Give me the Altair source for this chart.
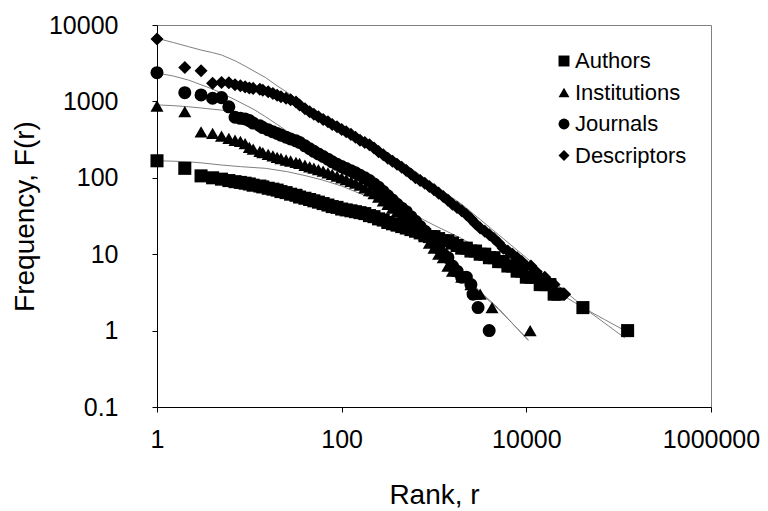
import altair as alt
import pandas as pd

series_names = ["Authors", "Institutions", "Journals", "Descriptors"]
shapes = ["square", "triangle-up", "circle", "diamond"]

authors_rank = [1, 2, 3, 4, 5, 6, 7, 8, 9,
                10, 11, 13, 14, 16, 18, 20, 22, 25, 28, 32, 35, 40, 45, 50, 56, 63, 71, 79, 89,
                100, 112, 126, 141, 158, 178, 200, 224, 251, 282, 316, 355, 398, 447, 501, 562,
                631, 708, 794, 891, 1000, 1122, 1259, 1413, 1585, 1778, 1995, 2239, 2512, 2818,
                3162, 3548, 3981, 4467, 5012, 5623, 6310, 7079, 7943, 8913, 10000, 11220, 12589,
                14125, 16000, 18000, 20000, 22000, 41000, 125000]
authors_freq = [167, 133, 106, 100, 96, 92, 89, 87, 85,
                83, 80, 78, 76, 73, 71, 69, 66, 64, 61, 59, 56, 54, 52, 50, 48, 46, 44, 42, 41,
                39, 38, 37, 36, 35, 34, 32, 31, 29, 28, 26, 25, 24, 23, 22, 21,
                20, 19, 18, 17, 17, 16, 15, 15, 14, 13, 12, 12, 11, 11,
                10, 10, 9, 9, 8, 8, 7, 7, 6, 6, 5, 5, 5,
                4, 4, 4, 3, 3, 2, 1]

inst_rank = [1, 2, 3, 4, 5, 6, 7, 8, 9,
             10, 11, 13, 14, 16, 18, 20, 22, 25, 28, 32, 35, 40, 45, 50, 56, 63, 71, 79, 89,
             100, 112, 126, 141, 158, 178, 200, 224, 251, 282, 316, 355, 398, 447, 501, 562,
             631, 708, 794, 891, 1000, 1122, 1259, 1413, 1585, 1778, 1995, 2239, 2512, 2818,
             3162, 4250, 11000]
inst_freq = [870, 735, 400, 382, 352, 329, 310, 300, 280,
             250, 238, 222, 214, 203, 194, 185, 179, 171, 166, 159, 154, 146, 139, 134, 128, 122, 116, 111, 105,
             100, 95, 90, 85, 80, 74, 68, 62, 56, 50, 45, 40, 36, 32, 29, 26,
             23, 20, 17, 14, 12, 10, 9, 7, 6, 6, 5, 5, 4, 3,
             3, 2, 1]

jour_rank = [1, 2, 3, 4, 5, 6, 7, 8, 9,
             10, 11, 13, 14, 16, 18, 20, 22, 25, 28, 32, 35, 40, 45, 50, 56, 63, 71, 79, 89,
             100, 112, 126, 141, 158, 178, 200, 224, 251, 282, 316, 355, 398, 447, 501, 562,
             631, 708, 794, 891, 1000, 1122, 1259, 1413, 1585, 1778, 1995, 2239, 2512, 2650,
             3000, 3960]
jour_freq = [2375, 1300, 1214, 1100, 1120, 850, 620, 600, 590,
             560, 520, 480, 455, 425, 400, 380, 362, 340, 322, 305, 290, 262, 240, 222, 205, 190, 175, 162, 150,
             140, 132, 124, 116, 108, 100, 92, 83, 75, 66, 58, 51, 45, 40, 36, 31,
             27, 23, 20, 17, 14, 12, 10, 9, 7, 6, 5, 5, 4, 3,
             2, 1]

desc_rank = [1, 2, 3, 4, 5, 6, 7, 8, 9,
             10, 11, 13, 14, 16, 18, 20, 22, 25, 28, 32, 35, 40, 45, 50, 56, 63, 71, 79, 89,
             100, 112, 126, 141, 158, 178, 200, 224, 251, 282, 316, 355, 398, 447, 501, 562,
             631, 708, 794, 891, 1000, 1122, 1259, 1413, 1585, 1778, 1995, 2239, 2512, 2818,
             3162, 3548, 3981, 4467, 5012, 5623, 6310, 7079, 7943, 8913, 10000, 11220, 12589,
             14125, 15849, 17783, 19953, 22387, 26000]
desc_freq = [6560, 2770, 2520, 1725, 1765, 1750, 1650, 1600, 1550,
             1500, 1480, 1440, 1400, 1340, 1270, 1200, 1150, 1100, 1050, 980, 900, 800, 730, 680, 630, 580, 540, 500, 465,
             430, 400, 370, 340, 310, 290, 270, 245, 220, 200, 180, 165, 150, 137, 125, 112,
             100, 92, 85, 77, 70, 63, 57, 51, 45, 41, 37, 33, 29, 25,
             22, 20, 18, 16, 14, 12, 11, 10, 9, 8, 7, 7, 6,
             5, 5, 4, 4, 3, 3]

# ---- fitted curves ----
fit_authors_rank = [1, 1.5, 2.2, 3, 5, 8, 15, 26, 40, 61, 100, 140, 250, 400, 700, 1000, 2000,
                    3000, 5000, 10000, 20000, 41000, 70000, 126000]
fit_authors_freq = [167, 165, 162, 157, 147, 140, 133, 120, 107, 94, 78, 66, 50, 38, 30, 24, 16,
                    12, 8.5, 5.5, 3.4, 2, 1.4, 0.95]

fit_inst_rank = [1, 1.5, 2.2, 3, 4, 5, 7, 9, 11.5, 15, 20, 26, 35, 48, 70, 100, 150, 200, 300,
                 400, 600, 1000, 1500, 2340, 3500, 5000, 7500, 10500]
fit_inst_freq = [900, 880, 850, 820, 790, 770, 700, 630, 570, 500, 440, 386, 310, 240, 185, 145, 105, 82, 52,
                 37, 22, 12, 7.6, 4.6, 2.9, 1.95, 1.15, 0.74]

fit_jour_rank = [1, 1.5, 2.2, 3, 4, 5, 7, 9, 11.5, 15, 20, 26, 35, 48, 70, 100, 150, 200, 300,
                 400, 600, 1000, 1500, 2340, 3500, 5000, 7500, 10500]
fit_jour_freq = [2350, 2150, 1900, 1650, 1450, 1280, 1050, 900, 770, 630, 500, 400, 310, 240, 190, 150, 110, 85, 55,
                 38, 22, 12, 7.5, 4.4, 2.8, 1.9, 1.15, 0.76]

fit_desc_rank = [1, 1.5, 2.2, 3, 4, 5, 7, 9, 11.5, 15, 20, 26, 34, 45, 60, 80, 120, 190, 300, 430,
                 700, 1000, 2000, 5000, 10000, 26000, 50000, 117000]
fit_desc_freq = [6700, 5900, 5200, 4700, 4350, 4050, 3400, 2900, 2450, 2050, 1600, 1300, 1040, 820, 680, 560,
                 420, 310, 220, 165, 110, 80, 45, 18, 9, 3.3, 1.7, 0.8]

x_ticks = [1, 100, 10000, 1000000]
y_ticks = [0.1, 1, 10, 100, 1000, 10000]

FONT = "Liberation Sans"


def build(pairs):
    rows = []
    for name, rs, fs in pairs:
        for r, f in zip(rs, fs):
            rows.append({"series": name, "rank": r, "freq": f})
    return pd.DataFrame(rows)


points_df = build([
    ("Authors", authors_rank, authors_freq),
    ("Institutions", inst_rank, inst_freq),
    ("Journals", jour_rank, jour_freq),
    ("Descriptors", desc_rank, desc_freq),
])
fit_df = build([
    ("Authors", fit_authors_rank, fit_authors_freq),
    ("Institutions", fit_inst_rank, fit_inst_freq),
    ("Journals", fit_jour_rank, fit_jour_freq),
    ("Descriptors", fit_desc_rank, fit_desc_freq),
])

x_enc = alt.X(
    "rank:Q",
    scale=alt.Scale(type="log", domain=[1, 1000000], nice=False),
    axis=alt.Axis(
        values=x_ticks, title="Rank, r", labelExpr="format(datum.value, 'd')",
        labelFlush=False, labelOverlap=False, labelPadding=15,
        titleBaseline="middle", titleY=88,
    ),
)
y_enc = alt.Y(
    "freq:Q",
    scale=alt.Scale(type="log", domain=[0.1, 10000], nice=False),
    axis=alt.Axis(
        values=y_ticks, title="Frequency, F(r)",
        labelExpr="datum.value < 1 ? '0.1' : format(datum.value, 'd')",
        labelFlush=False, labelOverlap=False, labelPadding=34,
        titleBaseline="middle", titleX=-132,
    ),
)

lines = alt.Chart(fit_df).mark_line(color="#808080", strokeWidth=1).encode(
    x=x_enc, y=y_enc, detail="series:N", order="rank:Q"
)

points = alt.Chart(points_df).mark_point(
    filled=True, color="black", size=170, opacity=1
).encode(
    x=x_enc,
    y=y_enc,
    shape=alt.Shape(
        "series:N",
        scale=alt.Scale(domain=series_names, range=shapes),
        legend=alt.Legend(
            title=None, orient="none", legendX=396, legendY=25, padding=0,
            labelFontSize=22, labelFont=FONT, labelColor="black",
            symbolSize=120, symbolFillColor="black", symbolStrokeColor="black",
            symbolStrokeWidth=0, rowPadding=9.5, labelOffset=0,
        ),
    ),
)

chart = alt.layer(lines, points).properties(
    width=554, height=382,
    padding={"left": 157, "top": 25, "right": 57, "bottom": 104},
    autosize="none",
).configure_view(
    stroke="#808080", strokeWidth=1
).configure_axis(
    grid=False, domainColor="#000000", tickColor="#000000", tickSize=5,
    labelFontSize=25, titleFontSize=28, labelFont=FONT, titleFont=FONT,
    labelColor="black", titleColor="black", titleFontWeight="normal",
)

chart.save("out.html", embed_options={"renderer": "svg", "actions": False})
